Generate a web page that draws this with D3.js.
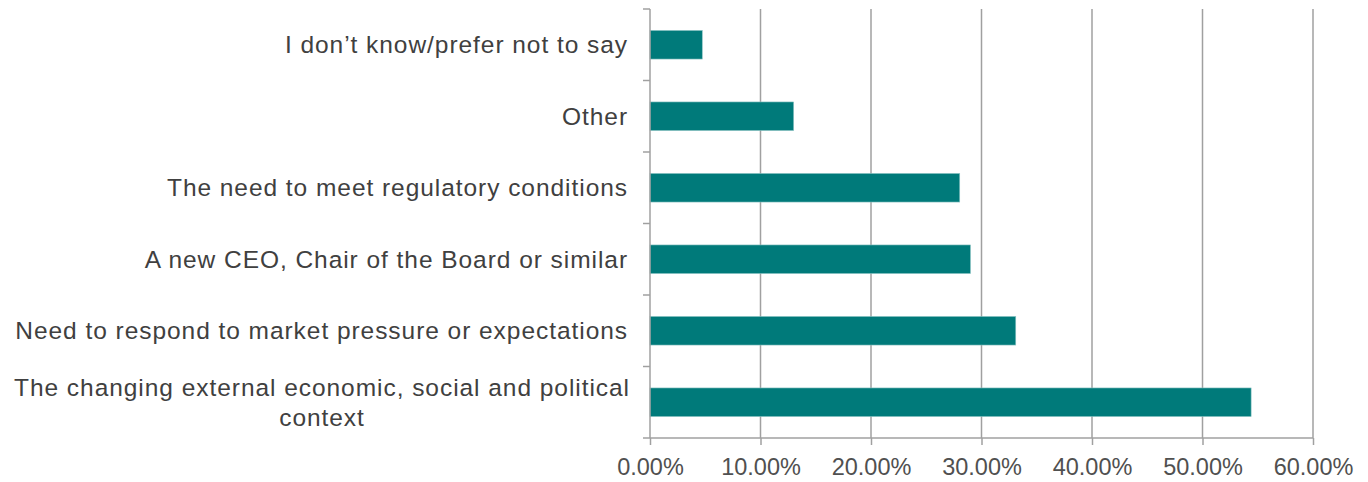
<!DOCTYPE html>
<html>
<head>
<meta charset="utf-8">
<script src="https://cdn.jsdelivr.net/npm/d3@7"></script>
<style>
  html, body { margin: 0; padding: 0; background: #fff; }
  svg { display: block; font-family: "Liberation Sans", Arial, sans-serif; }
</style>
</head>
<body>
<svg id="chart" width="1368" height="482"></svg>
<script>
// Survey responses (share of respondents), top to bottom
const categories = [
  "I don\u2019t know/prefer not to say",
  "Other",
  "The need to meet regulatory conditions",
  "A new CEO, Chair of the Board or similar",
  "Need to respond to market pressure or expectations",
  "The changing external economic, social and political context"
];
const shares = [0.0473, 0.130, 0.2803, 0.290, 0.331, 0.544];
const tickValues = [0, 0.1, 0.2, 0.3, 0.4, 0.5, 0.6];
// Wrapped label lines for long categories
const labelLines = {
  "The changing external economic, social and political context":
    ["The changing external economic, social and political", "context"]
};

const svg = d3.select("#chart");
const margin = { left: 650, right: 55, top: 9, bottom: 44 };
const W = 1368, H = 482;

const x = d3.scaleLinear().domain([0, 0.6]).range([margin.left, W - margin.right]);
const y = d3.scaleBand().domain(categories).range([margin.top, H - margin.bottom]).paddingInner(0.6).paddingOuter(0.3);
const yTicks = d3.scaleBand().domain(categories).range([margin.top, H - margin.bottom]);

const gridColor = "#a0a0a0";
const textColor = "#404040";

// vertical gridlines
svg.append("g").selectAll("line").data(tickValues.slice(1)).join("line")
  .attr("x1", d => x(d)).attr("x2", d => x(d))
  .attr("y1", margin.top).attr("y2", H - margin.bottom)
  .attr("stroke", gridColor).attr("stroke-width", 1.5);

// bars
svg.append("g").selectAll("rect").data(categories).join("rect")
  .attr("x", x(0))
  .attr("y", d => y(d))
  .attr("width", (d, i) => x(shares[i]) - x(0))
  .attr("height", y.bandwidth())
  .attr("fill", "#007a7a")
  .attr("stroke", "#8cc4c4").attr("stroke-width", 0.6);

// x axis
const xAxis = d3.axisBottom(x).tickValues(tickValues).tickSize(7).tickPadding(13.5)
  .tickFormat(d3.format(".2%"));
const gx = svg.append("g").attr("transform", `translate(0,${H - margin.bottom})`).call(xAxis);
gx.select(".domain").attr("stroke", gridColor).attr("stroke-width", 1.5).attr("d", `M${x(0)},0H${x(0.6)}`);
gx.selectAll(".tick line").attr("stroke", gridColor).attr("stroke-width", 1.5);
gx.selectAll(".tick text").attr("fill", "#505050").attr("font-size", 23.5)
  .attr("font-family", "Liberation Sans, Arial, sans-serif");

// y axis line and tick marks at category boundaries
const gy = svg.append("g");
gy.append("line").attr("x1", x(0)).attr("x2", x(0)).attr("y1", margin.top).attr("y2", H - margin.bottom)
  .attr("stroke", gridColor).attr("stroke-width", 1.5);
const bounds = categories.map(c => yTicks(c)).concat([H - margin.bottom]);
gy.selectAll("line.tk").data(bounds).join("line").attr("class", "tk")
  .attr("x1", x(0) - 7).attr("x2", x(0)).attr("y1", d => d).attr("y2", d => d)
  .attr("stroke", gridColor).attr("stroke-width", 1.5);

// category labels
const lab = svg.append("g").attr("font-size", 24.5).attr("fill", textColor)
  .attr("letter-spacing", "0.95px");
categories.forEach(c => {
  const cy = yTicks(c) + yTicks.bandwidth() / 2;
  const lines = labelLines[c];
  if (lines) {
    const lh = 30;
    const t0 = lab.append("text").attr("x", 630).attr("y", cy - lh / 2).attr("dy", "0.34em")
      .attr("text-anchor", "end").text(lines[0]);
    const w = t0.node().getComputedTextLength();
    lab.append("text").attr("x", 630 - w / 2).attr("y", cy + lh / 2).attr("dy", "0.34em")
      .attr("text-anchor", "middle").text(lines[1]);
  } else {
    lab.append("text").attr("x", 628).attr("y", cy).attr("dy", "0.34em")
      .attr("text-anchor", "end").text(c);
  }
});
</script>
</body>
</html>
